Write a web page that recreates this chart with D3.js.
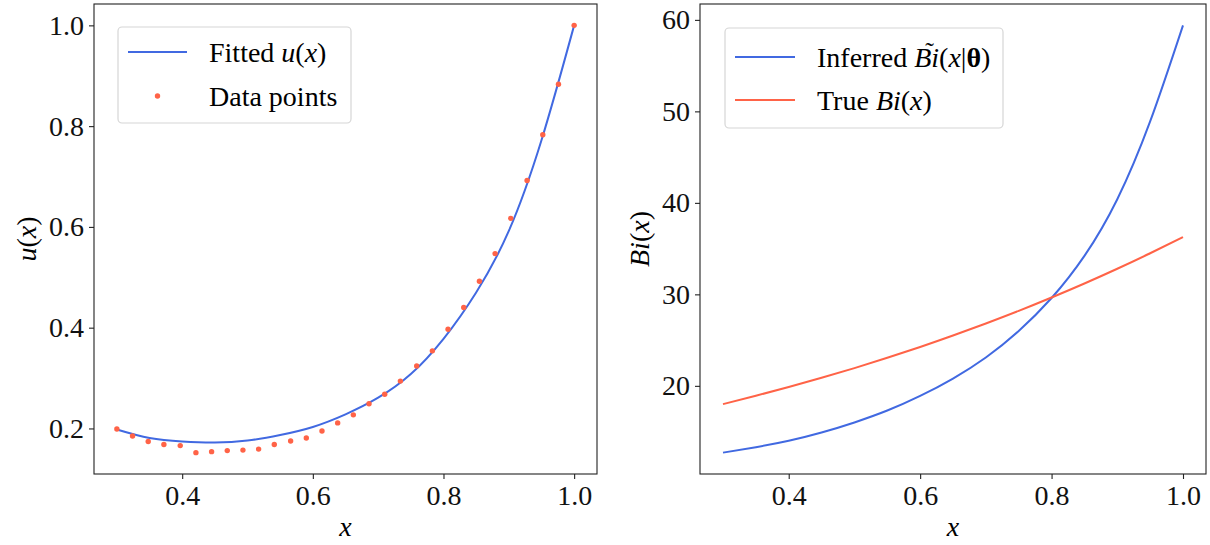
<!DOCTYPE html>
<html>
<head>
<meta charset="utf-8">
<script src="https://cdn.jsdelivr.net/npm/d3@7"></script>
<style>
  body { margin: 0; background: #fff; }
  svg { display: block; }
</style>
</head>
<body>
<svg id="fig" width="1210" height="545"></svg>
<script>
// ---- data ----
// left panel: fitted u(x) sampled every 0.05
const xFit = [0.30, 0.35, 0.40, 0.45, 0.50, 0.55, 0.60, 0.65, 0.70, 0.75, 0.80, 0.85, 0.90, 0.95, 1.00];
const uFitted = [0.198, 0.181, 0.174, 0.172, 0.176, 0.187, 0.203, 0.228, 0.261, 0.308, 0.378, 0.470, 0.592, 0.772, 1.000];

// left panel: data points
const xData = [0.300, 0.324, 0.348, 0.372, 0.397, 0.421, 0.445, 0.469, 0.493, 0.517,
               0.541, 0.566, 0.590, 0.614, 0.638, 0.662, 0.686, 0.710, 0.734, 0.759,
               0.783, 0.807, 0.831, 0.855, 0.879, 0.903, 0.928, 0.952, 0.976, 1.000];
const uData = [0.199, 0.185, 0.174, 0.168, 0.166, 0.152, 0.154, 0.156, 0.157, 0.159,
               0.168, 0.175, 0.181, 0.195, 0.211, 0.227, 0.249, 0.268, 0.294, 0.324,
               0.354, 0.397, 0.440, 0.492, 0.547, 0.617, 0.692, 0.783, 0.883, 1.000];

// right panel: Bi(x) curves sampled every 0.05
const xBi = [0.30, 0.35, 0.40, 0.45, 0.50, 0.55, 0.60, 0.65, 0.70, 0.75, 0.80, 0.85, 0.90, 0.95, 1.00];
const biInferred = [12.7, 13.3, 14.0, 14.9, 16.0, 17.3, 18.9, 20.8, 23.1, 26.0, 29.6, 34.2, 40.4, 48.9, 59.4];
const biTrue = [18.0, 18.92, 19.87, 20.88, 21.94, 23.07, 24.25, 25.5, 26.82, 28.2, 29.66, 31.19, 32.8, 34.49, 36.26];

const xTicks = [0.4, 0.6, 0.8, 1.0];
const uTicks = [0.2, 0.4, 0.6, 0.8, 1.0];
const biTicks = [20, 30, 40, 50, 60];

const BLUE = "#4169e1";   // royalblue
const RED = "#ff6347";    // tomato
const FONT = '"Liberation Serif", "DejaVu Serif", serif';
const FS = 28;

const svg = d3.select("#fig");

// matplotlib-like autoscale: 5% margin each side
function padded(vals) {
  const [lo, hi] = d3.extent(vals);
  const m = (hi - lo) * 0.05;
  return [lo - m, hi + m];
}

function drawPanel(p) {
  const g = svg.append("g");

  const x = d3.scaleLinear().domain(padded(p.xAll)).range([p.left, p.right]);
  const y = d3.scaleLinear().domain(padded(p.yAll)).range([p.bottom, p.top]);

  // x axis
  const xa = g.append("g")
    .attr("transform", `translate(0,${p.bottom})`)
    .call(d3.axisBottom(x).tickValues(xTicks).tickFormat(d3.format(".1f"))
      .tickSize(5).tickSizeOuter(0).tickPadding(6));
  // y axis
  const ya = g.append("g")
    .attr("transform", `translate(${p.left},0)`)
    .call(d3.axisLeft(y).tickValues(p.yTicks).tickFormat(p.yFormat)
      .tickSize(5).tickSizeOuter(0).tickPadding(5));

  [xa, ya].forEach(a => {
    a.select(".domain").remove();
    a.selectAll(".tick line").attr("stroke", "#222").attr("stroke-width", 1.1);
    a.selectAll(".tick text").attr("fill", "#111")
      .style("font-family", FONT).style("font-size", FS + "px");
  });

  // lines
  p.lines.forEach(l => {
    const line = d3.line()
      .x((d, i) => x(l.xs[i]))
      .y(d => y(d))
      .curve(d3.curveNatural);
    g.append("path")
      .attr("d", line(l.ys))
      .attr("fill", "none")
      .attr("stroke", l.color)
      .attr("stroke-width", 2);
  });

  // scatter points
  (p.points || []).forEach(s => {
    g.selectAll(null)
      .data(s.ys)
      .join("circle")
      .attr("cx", (d, i) => x(s.xs[i]))
      .attr("cy", d => y(d))
      .attr("r", 2.7)
      .attr("fill", s.color);
  });

  // spines
  g.append("rect")
    .attr("x", p.left).attr("y", p.top)
    .attr("width", p.right - p.left).attr("height", p.bottom - p.top)
    .attr("fill", "none").attr("stroke", "#222").attr("stroke-width", 1.1);

  // x label
  g.append("text")
    .attr("x", (p.left + p.right) / 2).attr("y", 536)
    .attr("text-anchor", "middle")
    .style("font-family", FONT).style("font-size", FS + "px").style("font-style", "italic")
    .text("x");

  // y label
  const yl = g.append("text")
    .attr("transform", `translate(${p.yLabelX},${(p.top + p.bottom) / 2}) rotate(-90)`)
    .attr("text-anchor", "middle")
    .style("font-family", FONT).style("font-size", FS + "px");
  p.yLabel.forEach(([t, it]) => yl.append("tspan").style("font-style", it ? "italic" : "normal").text(t));

  // legend
  const L = p.legend;
  g.append("rect")
    .attr("x", L.x).attr("y", L.y).attr("width", L.w).attr("height", L.h)
    .attr("rx", 4).attr("fill", "#fff").attr("fill-opacity", 0.8)
    .attr("stroke", "#d6d6d6").attr("stroke-width", 1.2);

  L.items.forEach((it, k) => {
    const cy = L.rowY[k];
    if (it.kind === "line") {
      g.append("line")
        .attr("x1", L.handleX0).attr("x2", L.handleX1)
        .attr("y1", cy).attr("y2", cy)
        .attr("stroke", it.color).attr("stroke-width", 2);
    } else {
      g.append("circle")
        .attr("cx", (L.handleX0 + L.handleX1) / 2).attr("cy", cy)
        .attr("r", 2.7).attr("fill", it.color);
    }
    const t = g.append("text")
      .attr("x", L.textX).attr("y", cy + 10)
      .style("font-family", FONT).style("font-size", FS + "px");
    it.label.forEach(([s, style]) => {
      const ts = t.append("tspan").text(s);
      if (style === "i") ts.style("font-style", "italic");
      if (style === "b") ts.style("font-weight", "bold");
    });
    if (it.tilde) {
      // tilde over "Bi"
      const node = t.node();
      const a = node.getStartPositionOfChar(it.tilde[0]).x;
      const b = node.getEndPositionOfChar(it.tilde[1]).x;
      g.append("text")
        .attr("x", (a + b) / 2 + 3).attr("y", cy + 3)
        .attr("text-anchor", "middle")
        .style("font-family", FONT).style("font-size", "26px")
        .text("\u02DC");
    }
  });
}

drawPanel({
  left: 94, right: 597, top: 4, bottom: 474,
  xAll: xData, yAll: uData.concat(uFitted),
  yTicks: uTicks, yFormat: d3.format(".1f"),
  lines: [{ xs: xFit, ys: uFitted, color: BLUE }],
  points: [{ xs: xData, ys: uData, color: RED }],
  yLabel: [["u", true], ["(", false], ["x", true], [")", false]],
  yLabelX: 36,
  legend: {
    x: 118, y: 27, w: 233, h: 96,
    handleX0: 128, handleX1: 187, textX: 209,
    rowY: [52, 96],
    items: [
      { kind: "line", color: BLUE, label: [["Fitted ", ""], ["u", "i"], ["(", ""], ["x", "i"], [")", ""]] },
      { kind: "dot", color: RED, label: [["Data points", ""]] }
    ]
  }
});

drawPanel({
  left: 700, right: 1206, top: 4, bottom: 474,
  xAll: xBi, yAll: biInferred.concat(biTrue),
  yTicks: biTicks, yFormat: d3.format("d"),
  lines: [{ xs: xBi, ys: biInferred, color: BLUE }, { xs: xBi, ys: biTrue, color: RED }],
  points: [],
  yLabel: [["Bi", true], ["(", false], ["x", true], [")", false]],
  yLabelX: 649,
  legend: {
    x: 725, y: 28, w: 278, h: 100,
    handleX0: 735, handleX1: 795, textX: 817,
    rowY: [57, 100],
    items: [
      { kind: "line", color: BLUE, tilde: [9, 10],
        label: [["Inferred ", ""], ["Bi", "i"], ["(", ""], ["x", "i"], ["|", ""], ["\u03B8", "b"], [")", ""]] },
      { kind: "line", color: RED, label: [["True ", ""], ["Bi", "i"], ["(", ""], ["x", "i"], [")", ""]] }
    ]
  }
});
</script>
</body>
</html>
